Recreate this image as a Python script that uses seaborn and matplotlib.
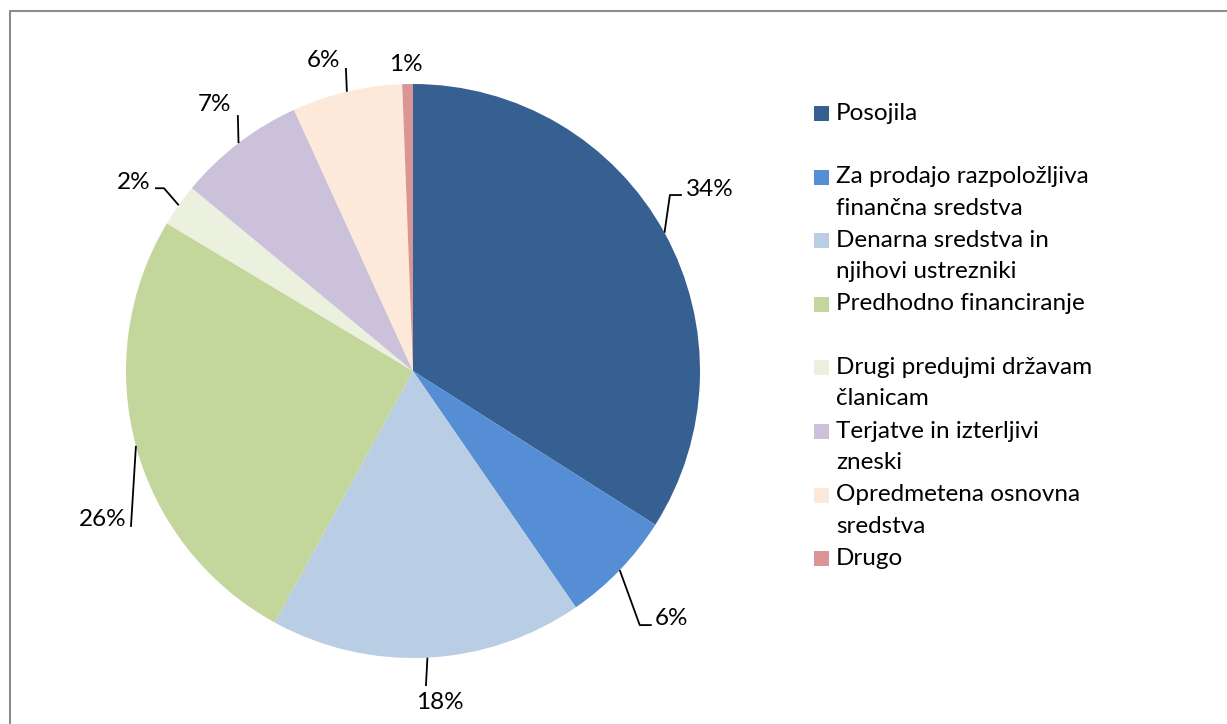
import numpy as np
import seaborn as sns
import matplotlib.pyplot as plt
from matplotlib.patches import Rectangle

# shares of assets (percent)
categories = ["Posojila", "Za prodajo razpoložljiva\nfinančna sredstva",
              "Denarna sredstva in\nnjihovi ustrezniki", "Predhodno financiranje",
              "Drugi predujmi državam\nčlanicam", "Terjatve in izterljivi\nzneski",
              "Opredmetena osnovna\nsredstva", "Drugo"]
shares = [34.0, 6.4, 17.6, 25.6, 2.4, 7.2, 6.2, 0.6]
colors = ["#376092", "#558ED5", "#B9CDE5", "#C3D69B",
          "#EBF1DE", "#CCC1DA", "#FDE9D9", "#D99694"]

sns.set_style("white")
plt.rcParams['font.family'] = ['Lato', 'DejaVu Sans']
FS = 17.5

fig = plt.figure(figsize=(12.27, 7.24), dpi=100)
ax = fig.add_axes([0, 0, 1, 1])

cx, cy, R = 413, 371, 287
ax.pie(shares, colors=colors, startangle=-90, counterclock=True,
       center=(cx, cy), radius=R, wedgeprops=dict(linewidth=0))
ax.set_xlim(0, 1227)
ax.set_ylim(724, 0)
ax.set_aspect('equal')
ax.axis('off')

# label leader geometry relative to wedge edge point (px, y down)
# (elbow dx, elbow dy, end dx, text dx, text dy, ha)
leaders = [(5.4, -37.7, 17.4, 21.4, -43.7, 'left'),
           (20, 55, 32, 35, 48, 'left'),
           (-1.5, 28.4, -1.5, 12.5, 45, 'center'),
           (-5, 81, -5, -9, 74, 'right'),
           (-14.7, -17, -23.7, -28.7, -23, 'right'),
           (-0.7, -28, -0.7, -23.7, -39, 'center'),
           (-1, -23.7, -1, -23, -31.7, 'center'),
           None]
text_off_1 = (-1.5, -20)

cum = np.cumsum([0] + shares)
for i, s in enumerate(shares):
    mid = 90 - (cum[i] + s / 2) / 100 * 360
    ex = cx + R * np.cos(np.radians(mid))
    ey = cy - R * np.sin(np.radians(mid))
    lab = f"{s:.0f}%"
    L = leaders[i]
    if L is None:
        ax.text(ex + text_off_1[0], ey + text_off_1[1], lab, ha='center',
                va='center', fontsize=FS, color='black')
        continue
    edx, edy, endx, tdx, tdy, ha = L
    ax.plot([ex, ex + edx, ex + endx], [ey, ey + edy, ey + edy],
            color='black', lw=1.3, solid_capstyle='butt')
    ax.text(ex + tdx, ey + tdy, lab, ha=ha, va='center', fontsize=FS,
            color='black')

# legend drawn Excel-style: square aligned with first line
y0, pitch, line_h = 113, 63.6, 31.5
for i, (lab, c) in enumerate(zip(categories, colors)):
    y = y0 + i * pitch
    ax.add_patch(Rectangle((814, y - 7), 15, 15, facecolor=c, edgecolor='none'))
    for k, line in enumerate(lab.split("\n")):
        ax.text(836, y + k * line_h, line, ha='left', va='center',
                fontsize=FS, color='black')

# chart frame
fig.patches.append(Rectangle((10 / 1227, -0.05), 1.1, (724 - 11) / 724 + 0.05,
                             transform=fig.transFigure, fill=False,
                             edgecolor='#8c8c8c', lw=1.5))

fig.savefig("out.png", dpi=100)
